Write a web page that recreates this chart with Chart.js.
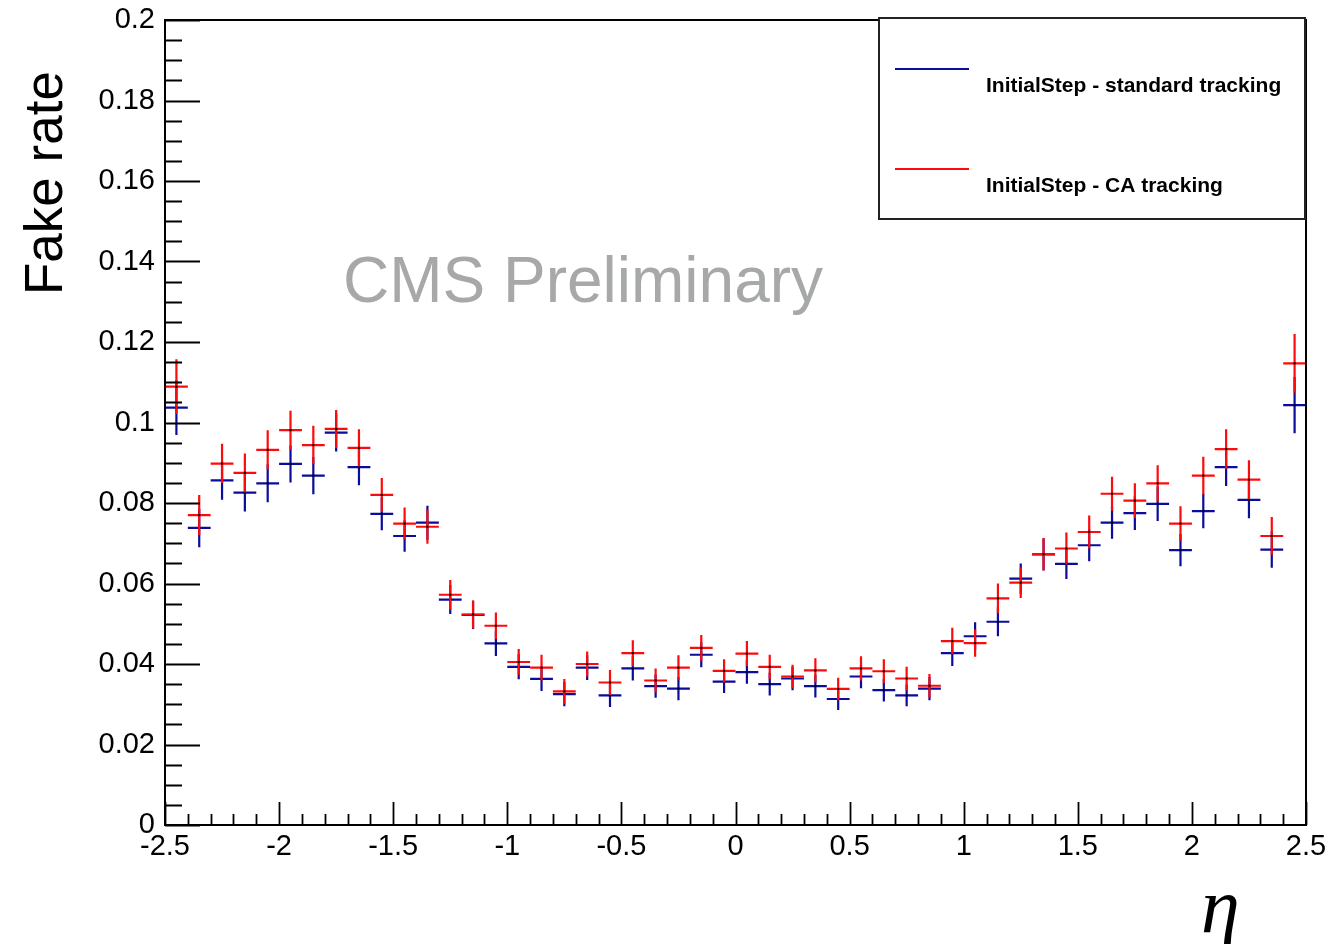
<!DOCTYPE html>
<html>
<head>
<meta charset="utf-8">
<title>Fake rate vs eta</title>
<script src="https://cdn.jsdelivr.net/npm/chart.js@4.4.1/dist/chart.umd.min.js"></script>
<style>
  html, body { margin: 0; padding: 0; background: #fff; }
  #wrap { width: 1341px; height: 944px; }
</style>
</head>
<body>
<div id="wrap"><canvas id="fakeRate" width="1341" height="944"></canvas></div>
<script>
// bin centres in eta (bins of 0.1 from -2.5 to 2.5)
const etaBins = [
  -2.45, -2.35, -2.25, -2.15, -2.05, -1.95, -1.85, -1.75, -1.65, -1.55,
  -1.45, -1.35, -1.25, -1.15, -1.05, -0.95, -0.85, -0.75, -0.65, -0.55,
  -0.45, -0.35, -0.25, -0.15, -0.05, 0.05, 0.15, 0.25, 0.35, 0.45,
  0.55, 0.65, 0.75, 0.85, 0.95, 1.05, 1.15, 1.25, 1.35, 1.45,
  1.55, 1.65, 1.75, 1.85, 1.95, 2.05, 2.15, 2.25, 2.35, 2.45
];
const binHalfWidth = 0.05;

// InitialStep - standard tracking
const rateStandard = [
  0.1037, 0.0738, 0.0856, 0.0826, 0.0849, 0.0897, 0.0868, 0.0975, 0.0889, 0.0773,
  0.0718, 0.0751, 0.0560, 0.0522, 0.0451, 0.0393, 0.0363, 0.0325, 0.0391, 0.0322,
  0.0389, 0.0345, 0.0339, 0.0423, 0.0356, 0.0380, 0.0350, 0.0364, 0.0345, 0.0313,
  0.0369, 0.0335, 0.0322, 0.0339, 0.0427, 0.0469, 0.0505, 0.0612, 0.0672, 0.0649,
  0.0695, 0.0751, 0.0775, 0.0798, 0.0683, 0.0780, 0.0889, 0.0808, 0.0684, 0.1043
];
const errStandard = [
  0.0068, 0.0048, 0.0048, 0.0047, 0.0047, 0.0046, 0.0046, 0.0047, 0.0045, 0.0041,
  0.0039, 0.0042, 0.0036, 0.0035, 0.0031, 0.0031, 0.0030, 0.0030, 0.0031, 0.0029,
  0.0030, 0.0029, 0.0029, 0.0031, 0.0028, 0.0029, 0.0028, 0.0029, 0.0028, 0.0027,
  0.0029, 0.0028, 0.0027, 0.0029, 0.0032, 0.0035, 0.0036, 0.0038, 0.0040, 0.0038,
  0.0040, 0.0040, 0.0042, 0.0043, 0.0040, 0.0043, 0.0047, 0.0046, 0.0045, 0.0070
];

// InitialStep - CA tracking
const rateCA = [
  0.1089, 0.0770, 0.0898, 0.0875, 0.0932, 0.0981, 0.0944, 0.0984, 0.0937, 0.0820,
  0.0749, 0.0741, 0.0572, 0.0523, 0.0495, 0.0405, 0.0391, 0.0332, 0.0400, 0.0354,
  0.0427, 0.0359, 0.0391, 0.0440, 0.0383, 0.0426, 0.0393, 0.0369, 0.0384, 0.0338,
  0.0389, 0.0382, 0.0364, 0.0346, 0.0457, 0.0452, 0.0563, 0.0602, 0.0673, 0.0687,
  0.0728, 0.0823, 0.0806, 0.0849, 0.0749, 0.0868, 0.0934, 0.0858, 0.0718, 0.1147
];
const errCA = [
  0.0068, 0.0050, 0.0049, 0.0048, 0.0049, 0.0048, 0.0048, 0.0047, 0.0046, 0.0042,
  0.0040, 0.0042, 0.0037, 0.0035, 0.0033, 0.0032, 0.0032, 0.0031, 0.0031, 0.0031,
  0.0032, 0.0030, 0.0031, 0.0032, 0.0029, 0.0031, 0.0030, 0.0029, 0.0030, 0.0028,
  0.0030, 0.0030, 0.0029, 0.0029, 0.0033, 0.0034, 0.0037, 0.0038, 0.0040, 0.0040,
  0.0041, 0.0042, 0.0043, 0.0045, 0.0043, 0.0047, 0.0049, 0.0048, 0.0047, 0.0073
];

const seriesNames = ['InitialStep - standard tracking', 'InitialStep - CA tracking'];
const seriesColors = ['#0b0b9c', '#ff0a0a'];

const FONT = '"Liberation Sans", Arial, Helvetica, sans-serif';
const fmt = v => String(+Number(v).toFixed(2));

// ROOT-like histogram look: crosses with error bars, inward ticks, frame, legend box
const rootStyle = {
  id: 'rootStyle',
  afterDatasetsDraw(chart) {
    const ctx = chart.ctx;
    const ys = chart.scales.y;
    const xs = chart.scales.x;
    ctx.save();
    chart.data.datasets.forEach((ds, i) => {
      const meta = chart.getDatasetMeta(i);
      ctx.strokeStyle = ds.borderColor;
      ctx.lineWidth = 2.2;
      meta.data.forEach((pt, j) => {
        const raw = ds.data[j];
        const xl = xs.getPixelForValue(raw.x - binHalfWidth);
        const xr = xs.getPixelForValue(raw.x + binHalfWidth);
        const yHi = ys.getPixelForValue(raw.y + ds.errors[j]);
        const yLo = ys.getPixelForValue(raw.y - ds.errors[j]);
        ctx.beginPath();
        ctx.moveTo(xl, pt.y);
        ctx.lineTo(xr, pt.y);
        ctx.moveTo(pt.x, yHi);
        ctx.lineTo(pt.x, yLo);
        ctx.stroke();
      });
      ctx.fillStyle = '#000';
      meta.data.forEach(pt => ctx.fillRect(pt.x - 1, pt.y - 1, 2, 2));
    });
    ctx.restore();
  },
  afterDraw(chart) {
    const ctx = chart.ctx;
    const a = chart.chartArea;
    const xs = chart.scales.x;
    const ys = chart.scales.y;
    ctx.save();

    // inward ticks
    ctx.strokeStyle = '#000';
    ctx.lineWidth = 1.8;
    ctx.beginPath();
    for (let k = 0; k <= 40; k++) {
      const v = k * 0.005;
      const y = Math.round(ys.getPixelForValue(v)) + 0.5;
      const len = k % 4 === 0 ? 35 : 17;
      ctx.moveTo(a.left, y);
      ctx.lineTo(a.left + len, y);
    }
    for (let k = 0; k <= 50; k++) {
      const v = -2.5 + k * 0.1;
      const x = Math.round(xs.getPixelForValue(v)) + 0.5;
      const len = k % 5 === 0 ? 23 : 11;
      ctx.moveTo(x, a.bottom);
      ctx.lineTo(x, a.bottom - len);
    }
    ctx.stroke();

    // frame
    ctx.lineWidth = 2;
    ctx.strokeRect(a.left, a.top, a.right - a.left, a.bottom - a.top);

    // watermark
    ctx.fillStyle = '#a7a9a9';
    ctx.font = '64px ' + FONT;
    ctx.textAlign = 'left';
    ctx.textBaseline = 'alphabetic';
    ctx.fillText('CMS Preliminary', 343, 302);

    // legend box
    ctx.fillStyle = '#fff';
    ctx.fillRect(879, 18, 426, 201);
    ctx.strokeStyle = '#222';
    ctx.lineWidth = 2;
    ctx.strokeRect(879, 18, 426, 201);
    const rowLineY = [69, 169];
    const rowTextY = [92, 192];
    ctx.font = 'bold 21px ' + FONT;
    seriesNames.forEach((name, i) => {
      ctx.strokeStyle = seriesColors[i];
      ctx.lineWidth = 2;
      ctx.beginPath();
      ctx.moveTo(895, rowLineY[i]);
      ctx.lineTo(969, rowLineY[i]);
      ctx.stroke();
      ctx.fillStyle = '#000';
      ctx.fillText(name, 986, rowTextY[i]);
    });

    // axis titles
    ctx.fillStyle = '#000';
    ctx.font = '53px ' + FONT;
    ctx.save();
    ctx.translate(62, 295);
    ctx.rotate(-Math.PI / 2);
    ctx.textAlign = 'left';
    ctx.fillText('Fake rate', 0, 0);
    ctx.restore();

    ctx.font = 'italic 78px "Liberation Serif", "Times New Roman", serif';
    ctx.textAlign = 'left';
    ctx.fillText('\u03b7', 1201, 932);

    ctx.restore();
  }
};

const tickFont = { family: FONT, size: 29 };

new Chart(document.getElementById('fakeRate').getContext('2d'), {
  type: 'scatter',
  data: {
    datasets: [
      {
        label: seriesNames[0],
        data: etaBins.map((x, i) => ({ x: x, y: rateStandard[i] })),
        errors: errStandard,
        borderColor: seriesColors[0],
        backgroundColor: seriesColors[0],
        pointRadius: 0
      },
      {
        label: seriesNames[1],
        data: etaBins.map((x, i) => ({ x: x, y: rateCA[i] })),
        errors: errCA,
        borderColor: seriesColors[1],
        backgroundColor: seriesColors[1],
        pointRadius: 0
      }
    ]
  },
  options: {
    responsive: false,
    animation: false,
    events: [],
    layout: { padding: { top: 20, right: 35, left: 0, bottom: 0 } },
    plugins: {
      legend: { display: false },
      tooltip: { enabled: false }
    },
    scales: {
      x: {
        type: 'linear',
        min: -2.5,
        max: 2.5,
        afterFit: s => { s.height = 119; s.paddingLeft = 0; s.paddingRight = 0; },
        grid: { display: false, drawTicks: false },
        border: { display: false },
        ticks: {
          stepSize: 0.5,
          padding: 5,
          maxRotation: 0,
          autoSkip: false,
          color: '#000',
          font: tickFont,
          callback: fmt
        }
      },
      y: {
        type: 'linear',
        min: 0,
        max: 0.2,
        afterFit: s => { s.width = 165; s.paddingTop = 0; s.paddingBottom = 0; },
        grid: { display: false, drawTicks: false },
        border: { display: false },
        ticks: {
          stepSize: 0.02,
          padding: 10,
          color: '#000',
          font: tickFont,
          callback: fmt
        }
      }
    }
  },
  plugins: [rootStyle]
});
</script>
</body>
</html>
